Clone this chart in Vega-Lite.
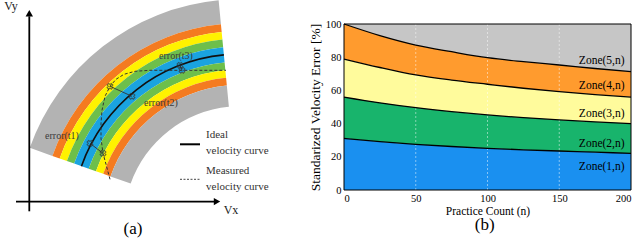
{
  "$schema": "https://vega.github.io/schema/vega-lite/v6.json",
  "padding": 0,
  "spacing": 8,
  "config": {
    "font": "Liberation Serif",
    "view": {"stroke": null},
    "text": {"font": "Liberation Serif"},
    "axis": {"labelFontSize": 10.5, "titleFontSize": 11.5, "labelColor": "black", "titleColor": "black", "titleFontWeight": "normal", "domain": false, "ticks": false, "grid": false, "labelFont": "Liberation Serif", "titleFont": "Liberation Serif", "labelOverlap": false},
    "axisX": {"labelPadding": 3, "titlePadding": 2}
  },
  "datasets": {
    "bands": [
      {"x": 240, "y": 224, "band": "Zone5", "r0": 199, "r1": 223, "t0": -1.2305, "t1": -0.096},
      {"x": 240, "y": 224, "band": "Zone4", "r0": 191.3, "r1": 199, "t0": -1.2305, "t1": -0.096},
      {"x": 240, "y": 224, "band": "Zone3", "r0": 183.6, "r1": 191.3, "t0": -1.2305, "t1": -0.096},
      {"x": 240, "y": 224, "band": "Zone2", "r0": 175.9, "r1": 183.6, "t0": -1.2305, "t1": -0.096},
      {"x": 240, "y": 224, "band": "Zone1", "r0": 160.5, "r1": 175.9, "t0": -1.2305, "t1": -0.096},
      {"x": 240, "y": 224, "band": "Zone2", "r0": 152.8, "r1": 160.5, "t0": -1.2305, "t1": -0.096},
      {"x": 240, "y": 224, "band": "Zone3", "r0": 145.1, "r1": 152.8, "t0": -1.2305, "t1": -0.096},
      {"x": 240, "y": 224, "band": "Zone4", "r0": 137.4, "r1": 145.1, "t0": -1.2305, "t1": -0.096},
      {"x": 240, "y": 224, "band": "Zone5", "r0": 116, "r1": 137.4, "t0": -1.2305, "t1": -0.096},
      {"x": 240, "y": 224, "band": "ideal", "r0": 167.4, "r1": 169, "t0": -1.2305, "t1": -0.096}
    ],
    "measured": [
      {"i": 0, "x": 110, "y": 181}, {"i": 1, "x": 106, "y": 166}, {"i": 2, "x": 103, "y": 155},
      {"i": 3, "x": 101, "y": 140}, {"i": 4, "x": 101, "y": 125}, {"i": 5, "x": 102, "y": 112},
      {"i": 6, "x": 105, "y": 98}, {"i": 7, "x": 110, "y": 88}, {"i": 8, "x": 116, "y": 81},
      {"i": 9, "x": 124, "y": 76}, {"i": 10, "x": 135, "y": 73}, {"i": 11, "x": 150, "y": 72},
      {"i": 12, "x": 182, "y": 72}, {"i": 13, "x": 226, "y": 72}
    ],
    "segs": [
      {"kind": "axis", "x": 29.3, "y": 213, "x2": 29.3, "y2": 18},
      {"kind": "axis", "x": 16, "y": 203.3, "x2": 214, "y2": 203.3},
      {"kind": "solid", "x": 180, "y": 146, "x2": 200, "y2": 146},
      {"kind": "dash", "x": 180, "y": 181, "x2": 200, "y2": 181},
      {"kind": "err", "x": 90, "y": 145, "x2": 103, "y2": 155},
      {"kind": "err", "x": 110, "y": 88, "x2": 132, "y2": 98},
      {"kind": "err", "x": 180, "y": 67, "x2": 182, "y2": 72}
    ],
    "marks": [
      {"x": 90, "y": 145}, {"x": 103, "y": 155}, {"x": 110, "y": 88},
      {"x": 132, "y": 98}, {"x": 180, "y": 67}, {"x": 182, "y": 72}
    ],
    "arrows": [
      {"x": 29.3, "y": 15, "dir": "up"},
      {"x": 217, "y": 203.3, "dir": "right"}
    ],
    "texts": [
      {"kind": "axis", "x": 11, "y": 8, "text": "Vy"},
      {"kind": "axis", "x": 231, "y": 212, "text": "Vx"},
      {"kind": "cap", "x": 133, "y": 231, "text": "(a)"},
      {"kind": "err", "x": 62, "y": 138, "text": "error(t1)"},
      {"kind": "err", "x": 161, "y": 105, "text": "error(t2)"},
      {"kind": "err", "x": 176, "y": 58, "text": "error(t3)"},
      {"kind": "leg", "x": 206, "y": 137, "text": "Ideal"},
      {"kind": "leg", "x": 206, "y": 153, "text": "velocity curve"},
      {"kind": "leg", "x": 206, "y": 173, "text": "Measured"},
      {"kind": "leg", "x": 206, "y": 189, "text": "velocity curve"}
    ],
    "zones": [
      {"n": 0, "b0": 0, "b1": 31.1, "b2": 56.0, "b3": 78.9, "b4": 100.0, "b5": 100},
      {"n": 25, "b0": 0, "b1": 29.1, "b2": 52.5, "b3": 73.8, "b4": 93.0, "b5": 100},
      {"n": 50, "b0": 0, "b1": 27.5, "b2": 49.6, "b3": 69.3, "b4": 87.3, "b5": 100},
      {"n": 75, "b0": 0, "b1": 26.2, "b2": 47.2, "b3": 66.2, "b4": 83.3, "b5": 100},
      {"n": 100, "b0": 0, "b1": 25.1, "b2": 45.2, "b3": 63.7, "b4": 79.7, "b5": 100},
      {"n": 125, "b0": 0, "b1": 24.2, "b2": 43.6, "b3": 61.3, "b4": 77.3, "b5": 100},
      {"n": 150, "b0": 0, "b1": 23.5, "b2": 42.2, "b3": 59.2, "b4": 75.3, "b5": 100},
      {"n": 175, "b0": 0, "b1": 22.8, "b2": 41.0, "b3": 57.5, "b4": 73.2, "b5": 100},
      {"n": 200, "b0": 0, "b1": 22.1, "b2": 40.0, "b3": 56.0, "b4": 71.3, "b5": 100}
    ],
    "zoneLabels": [
      {"label": "Zone(5,n)", "n": 195.5, "v": 78},
      {"label": "Zone(4,n)", "n": 195.5, "v": 62.9},
      {"label": "Zone(3,n)", "n": 195.5, "v": 45.8},
      {"label": "Zone(2,n)", "n": 195.5, "v": 27.7},
      {"label": "Zone(1,n)", "n": 195.5, "v": 14.1}
    ]
  },
  "hconcat": [
    {
      "width": 300,
      "height": 215.3,
      "encoding": {
        "x": {"field": "x", "type": "quantitative", "scale": {"domain": [0, 300], "nice": false, "zero": false}, "axis": null},
        "y": {"field": "y", "type": "quantitative", "scale": {"domain": [25.7, 241], "nice": false, "zero": false, "reverse": true}, "axis": null}
      },
      "layer": [
        {
          "data": {"name": "bands"},
          "mark": {"type": "arc"},
          "encoding": {
            "theta": {"field": "t0", "type": "quantitative", "scale": null},
            "theta2": {"field": "t1"},
            "radius": {"field": "r0", "type": "quantitative", "scale": {"type": "linear", "domain": [0, 300], "range": [0, 300], "zero": true, "nice": false}},
            "radius2": {"field": "r1"},
            "color": {"field": "band", "type": "nominal", "scale": {"domain": ["Zone5", "Zone4", "Zone3", "Zone2", "Zone1", "ideal"], "range": ["#b3b3b3", "#f47b20", "#fff200", "#6dbf4b", "#1aa3e0", "#111111"]}, "legend": null}
          }
        },
        {
          "data": {"name": "measured"},
          "mark": {"type": "line", "color": "#333333", "strokeWidth": 1, "strokeDash": [3, 2]},
          "encoding": {"order": {"field": "i", "type": "quantitative"}}
        },
        {
          "data": {"name": "segs"},
          "transform": [{"filter": "datum.kind === 'axis'"}],
          "mark": {"type": "rule", "color": "black", "strokeWidth": 1.8},
          "encoding": {"x2": {"field": "x2"}, "y2": {"field": "y2"}}
        },
        {
          "data": {"name": "segs"},
          "transform": [{"filter": "datum.kind === 'solid'"}],
          "mark": {"type": "rule", "color": "black", "strokeWidth": 2},
          "encoding": {"x2": {"field": "x2"}, "y2": {"field": "y2"}}
        },
        {
          "data": {"name": "segs"},
          "transform": [{"filter": "datum.kind === 'dash'"}],
          "mark": {"type": "rule", "color": "#444444", "strokeWidth": 1, "strokeDash": [2, 1.5]},
          "encoding": {"x2": {"field": "x2"}, "y2": {"field": "y2"}}
        },
        {
          "data": {"name": "segs"},
          "transform": [{"filter": "datum.kind === 'err'"}],
          "mark": {"type": "rule", "color": "#333333", "strokeWidth": 0.9},
          "encoding": {"x2": {"field": "x2"}, "y2": {"field": "y2"}}
        },
        {
          "data": {"name": "marks"},
          "mark": {"type": "point", "shape": "cross", "angle": 45, "size": 35, "color": "#333333", "strokeWidth": 1},
          "encoding": {}
        },
        {
          "data": {"name": "arrows"},
          "mark": {"type": "point", "filled": true, "color": "black", "size": 55, "opacity": 1},
          "encoding": {"shape": {"field": "dir", "type": "nominal", "scale": {"domain": ["up", "right"], "range": ["triangle-up", "triangle-right"]}, "legend": null}}
        },
        {
          "data": {"name": "texts"},
          "transform": [{"filter": "datum.kind === 'axis'"}],
          "mark": {"type": "text", "fontSize": 12, "color": "#222222", "font": "Liberation Serif"},
          "encoding": {"text": {"field": "text"}}
        },
        {
          "data": {"name": "texts"},
          "transform": [{"filter": "datum.kind === 'cap'"}],
          "mark": {"type": "text", "fontSize": 17, "color": "black", "font": "Liberation Serif"},
          "encoding": {"text": {"field": "text"}}
        },
        {
          "data": {"name": "texts"},
          "transform": [{"filter": "datum.kind === 'err'"}],
          "mark": {"type": "text", "fontSize": 10, "color": "#3a3a3a", "font": "Liberation Serif"},
          "encoding": {"text": {"field": "text"}}
        },
        {
          "data": {"name": "texts"},
          "transform": [{"filter": "datum.kind === 'leg'"}],
          "mark": {"type": "text", "fontSize": 11, "color": "#333333", "align": "left", "font": "Liberation Serif"},
          "encoding": {"text": {"field": "text"}}
        }
      ]
    },
    {
      "width": 287,
      "height": 166,
      "title": {"text": " ", "fontSize": 12, "offset": 6},
      "data": {"name": "zones"},
      "encoding": {
        "x": {"field": "n", "type": "quantitative", "scale": {"domain": [0, 200], "nice": false}, "axis": {"values": [0, 50, 100, 150, 200], "labelOverlap": false}, "title": "Practice Count (n)"}
      },
      "layer": [
        {
          "mark": {"type": "area", "color": "#c6c6c6", "interpolate": "monotone", "opacity": 1},
          "encoding": {
            "y": {"field": "b4", "type": "quantitative", "scale": {"domain": [0, 100], "nice": false}, "axis": {"values": [0, 20, 40, 60, 80, 100], "labelOverlap": false, "labelPadding": 3, "titlePadding": 3, "titleFontSize": 13.5}, "title": "Standarized Velocity Error [%]"},
            "y2": {"field": "b5"}
          }
        },
        {
          "mark": {"type": "area", "color": "#ff9b2e", "interpolate": "monotone", "opacity": 1},
          "encoding": {
            "y": {"field": "b3", "type": "quantitative", "axis": {"values": [0, 20, 40, 60, 80, 100], "labelOverlap": false, "labelPadding": 3, "titlePadding": 3, "titleFontSize": 13.5}, "title": "Standarized Velocity Error [%]"},
            "y2": {"field": "b4"}
          }
        },
        {
          "mark": {"type": "area", "color": "#fffb9c", "interpolate": "monotone", "opacity": 1},
          "encoding": {
            "y": {"field": "b2", "type": "quantitative", "axis": {"values": [0, 20, 40, 60, 80, 100], "labelOverlap": false, "labelPadding": 3, "titlePadding": 3, "titleFontSize": 13.5}, "title": "Standarized Velocity Error [%]"},
            "y2": {"field": "b3"}
          }
        },
        {
          "mark": {"type": "area", "color": "#18b46c", "interpolate": "monotone", "opacity": 1},
          "encoding": {
            "y": {"field": "b1", "type": "quantitative", "axis": {"values": [0, 20, 40, 60, 80, 100], "labelOverlap": false, "labelPadding": 3, "titlePadding": 3, "titleFontSize": 13.5}, "title": "Standarized Velocity Error [%]"},
            "y2": {"field": "b2"}
          }
        },
        {
          "mark": {"type": "area", "color": "#1a90f0", "interpolate": "monotone", "opacity": 1},
          "encoding": {
            "y": {"field": "b0", "type": "quantitative", "axis": {"values": [0, 20, 40, 60, 80, 100], "labelOverlap": false, "labelPadding": 3, "titlePadding": 3, "titleFontSize": 13.5}, "title": "Standarized Velocity Error [%]"},
            "y2": {"field": "b1"}
          }
        },
        {
          "data": {"values": [{"n": 50}, {"n": 100}, {"n": 150}]},
          "mark": {"type": "rule", "color": "white", "strokeWidth": 0.8, "opacity": 0.6, "strokeDash": [2, 2]},
          "encoding": {}
        },
        {
          "data": {"values": [{"v": 20}, {"v": 40}, {"v": 60}, {"v": 80}]},
          "mark": {"type": "rule", "color": "white", "strokeWidth": 0.8, "opacity": 0.6, "strokeDash": [2, 2]},
          "encoding": {
            "x": {"datum": 0, "type": "quantitative"},
            "x2": {"datum": 200},
            "y": {"field": "v", "type": "quantitative", "axis": {"values": [0, 20, 40, 60, 80, 100], "labelOverlap": false, "labelPadding": 3, "titlePadding": 3, "titleFontSize": 13.5}, "title": "Standarized Velocity Error [%]"}
          }
        },
        {
          "mark": {"type": "line", "color": "black", "strokeWidth": 1.3, "interpolate": "monotone"},
          "encoding": {"y": {"field": "b4", "type": "quantitative", "axis": {"values": [0, 20, 40, 60, 80, 100], "labelOverlap": false, "labelPadding": 3, "titlePadding": 3, "titleFontSize": 13.5}, "title": "Standarized Velocity Error [%]"}}
        },
        {
          "mark": {"type": "line", "color": "black", "strokeWidth": 1.3, "interpolate": "monotone"},
          "encoding": {"y": {"field": "b3", "type": "quantitative", "axis": {"values": [0, 20, 40, 60, 80, 100], "labelOverlap": false, "labelPadding": 3, "titlePadding": 3, "titleFontSize": 13.5}, "title": "Standarized Velocity Error [%]"}}
        },
        {
          "mark": {"type": "line", "color": "black", "strokeWidth": 1.3, "interpolate": "monotone"},
          "encoding": {"y": {"field": "b2", "type": "quantitative", "axis": {"values": [0, 20, 40, 60, 80, 100], "labelOverlap": false, "labelPadding": 3, "titlePadding": 3, "titleFontSize": 13.5}, "title": "Standarized Velocity Error [%]"}}
        },
        {
          "mark": {"type": "line", "color": "black", "strokeWidth": 1.3, "interpolate": "monotone"},
          "encoding": {"y": {"field": "b1", "type": "quantitative", "axis": {"values": [0, 20, 40, 60, 80, 100], "labelOverlap": false, "labelPadding": 3, "titlePadding": 3, "titleFontSize": 13.5}, "title": "Standarized Velocity Error [%]"}}
        },
        {
          "data": {"name": "zoneLabels"},
          "mark": {"type": "text", "align": "right", "fontSize": 11.5, "color": "black", "font": "Liberation Serif"},
          "encoding": {
            "y": {"field": "v", "type": "quantitative", "axis": {"values": [0, 20, 40, 60, 80, 100], "labelOverlap": false, "labelPadding": 3, "titlePadding": 3, "titleFontSize": 13.5}, "title": "Standarized Velocity Error [%]"},
            "text": {"field": "label"}
          }
        },
        {
          "data": {"values": [{"t": "(b)", "n": 98, "v": -21.3}]},
          "mark": {"type": "text", "fontSize": 17, "color": "black", "font": "Liberation Serif"},
          "encoding": {
            "y": {"field": "v", "type": "quantitative", "axis": {"values": [0, 20, 40, 60, 80, 100], "labelOverlap": false, "labelPadding": 3, "titlePadding": 3, "titleFontSize": 13.5}, "title": "Standarized Velocity Error [%]"},
            "text": {"field": "t"}
          }
        },
        {
          "data": {"values": [{"a": 0, "b": 200, "c": 0, "d": 100}]},
          "mark": {"type": "rect", "filled": false, "stroke": "black", "strokeWidth": 1},
          "encoding": {
            "x": {"field": "a", "type": "quantitative", "title": "Practice Count (n)"},
            "x2": {"field": "b"},
            "y": {"field": "c", "type": "quantitative", "axis": {"values": [0, 20, 40, 60, 80, 100], "labelOverlap": false, "labelPadding": 3, "titlePadding": 3, "titleFontSize": 13.5}, "title": "Standarized Velocity Error [%]"},
            "y2": {"field": "d"}
          }
        }
      ]
    }
  ]
}
